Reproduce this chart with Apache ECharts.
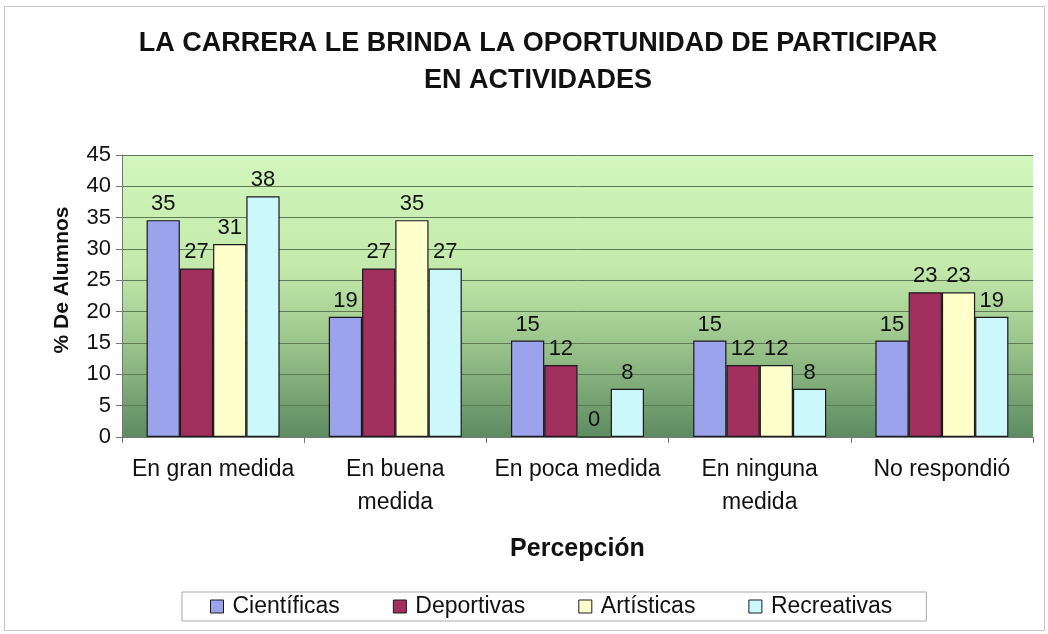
<!DOCTYPE html>
<html lang="es">
<head>
<meta charset="UTF-8">
<title>La carrera le brinda la oportunidad de participar en actividades</title>
<script src="https://cdn.jsdelivr.net/npm/echarts@6/dist/echarts.min.js"></script>
<style>
  html, body { margin: 0; padding: 0; background: #fff; }
  #main { width: 1048px; height: 634px; }
  #frame {
    position: absolute; left: 4px; top: 6px; width: 1039px; height: 623px;
    border: 1px solid #c8c8c8; pointer-events: none;
  }
</style>
</head>
<body>
<div id="main"></div>
<div id="frame"></div>
<script>
// categorias del eje x
const categorias = ['En gran medida', 'En buena\nmedida', 'En poca medida', 'En ninguna\nmedida', 'No respondió'];

// % de alumnos por tipo de actividad
const cientificas = [34.6, 19.2, 15.4, 15.4, 15.4];
const deportivas = [26.9, 26.9, 11.5, 11.5, 23.1];
const artisticas = [30.8, 34.6, 0, 11.5, 23.1];
const recreativas = [38.4, 26.9, 7.7, 7.7, 19.2];

const ticksY = [0, 5, 10, 15, 20, 25, 30, 35, 40, 45];

const font = 'Liberation Sans, Arial, sans-serif';

function serie(nombre, datos, color) {
  return {
    name: nombre,
    type: 'bar',
    data: datos,
    barGap: '0%',
    barCategoryGap: '27%',
    itemStyle: { color: color, borderColor: '#1a1a1a', borderWidth: 1.2 },
    label: {
      show: true,
      position: 'top',
      distance: 5,
      color: '#111',
      fontFamily: font,
      fontSize: 22,
      formatter: p => Math.round(p.value)
    }
  };
}

const chart = echarts.init(document.getElementById('main'));
chart.setOption({
  animation: false,
  title: {
    text: 'LA CARRERA LE BRINDA LA OPORTUNIDAD DE PARTICIPAR\nEN ACTIVIDADES',
    left: 533,
    textAlign: 'center',
    top: 20,
    textStyle: {
      fontFamily: font,
      fontWeight: 'bold',
      fontSize: 27,
      lineHeight: 37,
      color: '#111'
    }
  },
  legend: {
    top: 592,
    left: 182,
    itemWidth: 13,
    itemHeight: 13,
    itemGap: 53,
    padding: [3, 34, 3, 28],
    borderColor: '#aaa',
    borderWidth: 1,
    icon: 'rect',
    textStyle: { fontFamily: font, fontSize: 23, color: '#111', padding: [0, 0, 0, 4] },
    itemStyle: { borderColor: '#1a1a1a', borderWidth: 1 },
    data: ['Científicas', 'Deportivas', 'Artísticas', 'Recreativas']
  },
  grid: {
    left: 122,
    right: 15,
    top: 155,
    bottom: 197,
    show: true,
    borderWidth: 0,
    backgroundColor: new echarts.graphic.LinearGradient(0, 0, 0, 1, [
      { offset: 0, color: '#d2f6bd' },
      { offset: 0.4, color: '#c3eaab' },
      { offset: 0.7, color: '#96bf88' },
      { offset: 1, color: '#5d8c62' }
    ])
  },
  xAxis: {
    type: 'category',
    data: categorias,
    name: 'Percepción',
    nameLocation: 'middle',
    nameGap: 100,
    nameTextStyle: { fontFamily: font, fontWeight: 'bold', fontSize: 25, color: '#111' },
    axisLine: { lineStyle: { color: '#777', width: 1 } },
    axisTick: { show: true, length: 6, lineStyle: { color: '#777' } },
    axisLabel: { interval: 0, fontFamily: font, fontSize: 23, color: '#111', margin: 16, lineHeight: 33 }
  },
  yAxis: {
    type: 'value',
    min: 0,
    max: 45,
    interval: 5,
    name: '% De Alumnos',
    nameLocation: 'middle',
    nameGap: 49,
    nameTextStyle: { fontFamily: font, fontWeight: 'bold', fontSize: 21, color: '#111', padding: [0, 0, 0, 32] },
    axisLine: { show: true, lineStyle: { color: '#777' } },
    axisTick: { show: true, length: 6, lineStyle: { color: '#777' } },
    axisLabel: {
      fontFamily: font, fontSize: 22, color: '#111', margin: 11,
      formatter: v => ticksY.includes(v) ? String(v) : ''
    },
    splitLine: { show: true, lineStyle: { color: '#5d7a55', width: 1 } }
  },
  series: [
    serie('Científicas', cientificas, '#9aa3ec'),
    serie('Deportivas', deportivas, '#a2305f'),
    serie('Artísticas', artisticas, '#ffffcc'),
    serie('Recreativas', recreativas, '#ccf7fb')
  ]
});
</script>
</body>
</html>
